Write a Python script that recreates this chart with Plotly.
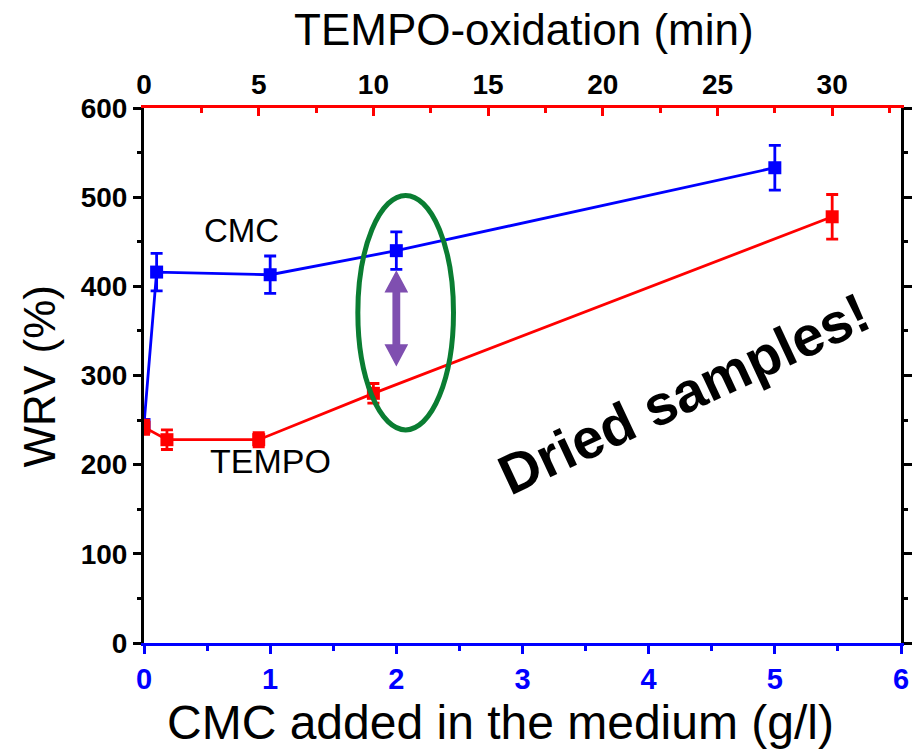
import plotly.graph_objects as go

# CMC series (bottom axis, g/l)
cmc_x = [0, 0.1, 1.0, 2.0, 5.0]
cmc_y = [245, 416, 413, 440, 533]
cmc_err = [0, 21, 21, 21, 25]

# TEMPO series (top axis, min)
tempo_x = [0, 1, 5, 10, 30]
tempo_y = [242, 228, 228, 280, 478]
tempo_err = [8, 11, 8, 11, 25]

x_ticks = [0, 1, 2, 3, 4, 5, 6]
x2_ticks = [0, 5, 10, 15, 20, 25, 30]
y_ticks = [0, 100, 200, 300, 400, 500, 600]

FONT = "Arial, Liberation Sans, sans-serif"
BLUE = "#0000ff"
RED = "#ff0000"

fig = go.Figure()
fig.add_trace(go.Scatter(
    x=cmc_x, y=cmc_y, mode="lines+markers", xaxis="x", yaxis="y",
    line=dict(color=BLUE, width=2.8),
    marker=dict(symbol="square", size=13, color=BLUE),
    error_y=dict(type="data", array=cmc_err, color=BLUE, thickness=2.8, width=6),
    showlegend=False))
fig.add_trace(go.Scatter(
    x=tempo_x, y=tempo_y, mode="lines+markers", xaxis="x2", yaxis="y",
    line=dict(color=RED, width=2.8),
    marker=dict(symbol="square", size=13, color=RED),
    error_y=dict(type="data", array=tempo_err, color=RED, thickness=2.8, width=6),
    showlegend=False))

fig.update_layout(
    width=924, height=754,
    margin=dict(l=144, r=12, t=108, b=111),
    plot_bgcolor="white", paper_bgcolor="white",
    font=dict(family=FONT, color="black"),
    xaxis=dict(
        range=[0, 6], tickvals=x_ticks, showgrid=False, zeroline=False,
        showline=True, linecolor=BLUE, linewidth=3,
        ticks="outside", ticklen=8, tickwidth=3, tickcolor=BLUE,
        minor=dict(dtick=0.5, ticks="outside", ticklen=5, tickwidth=3, tickcolor=BLUE),
        tickfont=dict(size=29, color=BLUE, family=FONT, weight="bold"),
    ),
    xaxis2=dict(
        overlaying="x", side="top", anchor="y",
        range=[0, 33], tickvals=x2_ticks, showgrid=False, zeroline=False,
        showline=True, linecolor=RED, linewidth=3,
        ticks="inside", ticklen=8, tickwidth=3, tickcolor=RED,
        minor=dict(dtick=2.5, ticks="inside", ticklen=5, tickwidth=3, tickcolor=RED),
        tickfont=dict(size=28, color="black", family=FONT, weight="bold"),
    ),
    yaxis=dict(
        range=[0, 600], tickvals=y_ticks, showgrid=False, zeroline=False,
        showline=True, linecolor="black", linewidth=3, mirror="ticks",
        ticks="outside", ticklen=8, tickwidth=3, tickcolor="black",
        minor=dict(dtick=50, ticks="outside", ticklen=4, tickwidth=3, tickcolor="black"),
        tickfont=dict(size=28, color="black", family=FONT, weight="bold"),
    ),
)

# Axis titles (paper coords relative to plot area)
fig.add_annotation(x=0.4714, y=-0.1477, xref="paper", yref="paper", xanchor="center", yanchor="middle",
                   text="CMC added in the medium (g/l)",
                   showarrow=False, font=dict(size=48, family=FONT, color="black"))
fig.add_annotation(x=0.5026, y=1.1458, xref="paper", yref="paper", xanchor="center", yanchor="middle",
                   text="TEMPO-oxidation (min)",
                   showarrow=False, font=dict(size=44, family=FONT, color="black"))
fig.add_annotation(x=-0.138, y=0.499, xref="paper", yref="paper", xanchor="center", yanchor="middle",
                   text="WRV (%)", textangle=-90,
                   showarrow=False, font=dict(size=44, family=FONT, color="black"))

# Annotations
fig.add_annotation(x=0.77, y=463, xref="x", yref="y", text="CMC", showarrow=False,
                   font=dict(size=33, family=FONT, color="black"))
fig.add_annotation(x=1.0, y=204, xref="x", yref="y", text="TEMPO", showarrow=False,
                   font=dict(size=34, family=FONT, color="black"))
fig.add_annotation(x=4.28, y=280, xref="x", yref="y", text="<b>Dried samples!</b>", showarrow=False,
                   textangle=-25, font=dict(size=56, family=FONT, color="black"))

# Green ellipse
fig.add_shape(type="circle", xref="x", yref="y", x0=1.695, x1=2.453, y0=239, y1=502,
              line=dict(color="#0a7d32", width=5))

# Purple double arrow
ax = 2.0
fig.add_shape(type="path", xref="x", yref="y",
              path=(f"M {ax} 418 L {ax+0.094} 393 L {ax+0.031} 393 L {ax+0.031} 335 "
                    f"L {ax+0.094} 335 L {ax} 310 L {ax-0.094} 335 L {ax-0.031} 335 "
                    f"L {ax-0.031} 393 L {ax-0.094} 393 Z"),
              fillcolor="#7f4fb0", line=dict(width=0))

fig.write_html("out.html")
